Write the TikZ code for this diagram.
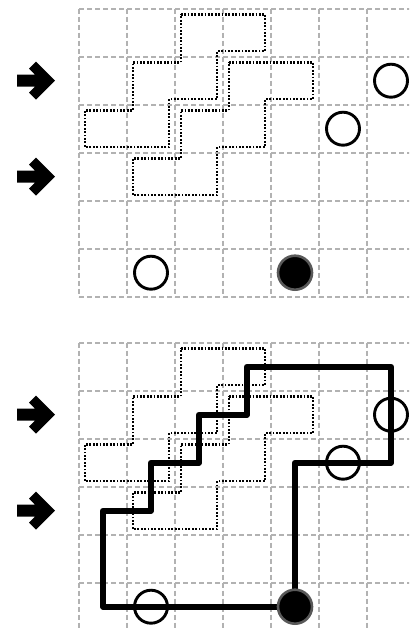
\documentclass[tikz,border=0pt]{standalone}
\begin{document}
\begin{tikzpicture}[x=1pt,y=-1pt,
  gridline/.style={draw=black!30,line width=1.7pt,dash pattern=on 5pt off 3pt},
  dotshape/.style={draw=black,line width=2.4pt,dash pattern=on 1.8pt off 1.6pt},
  opencirc/.style={circle,draw=black,line width=2.9pt,minimum size=33pt,inner sep=0pt,fill=none},
  fullcirc/.style={circle,draw=black!65,fill=black,line width=2.6pt,minimum size=34pt,inner sep=0pt},
  thickpath/.style={draw=black,line width=6pt,line join=round},
  bigarrow/.pic={\fill[black] (0pt,0pt) -- (-19pt,19pt) -- (-26pt,12pt) -- (-20pt,6pt) -- (-38pt,6pt)
      -- (-38pt,-6pt) -- (-20pt,-6pt) -- (-26pt,-12pt) -- (-19pt,-19pt) -- cycle;}
]
\useasboundingbox (0,0) rectangle (409,628);
\clip (0,0) rectangle (409,628);
\def\d{0.12}
% ---------- top panel ----------
\begin{scope}[shift={(79pt,-8.7pt)},x=48pt,y=-48pt]
  \foreach \i in {0,...,7} \draw[gridline] (\i,0) -- (\i,6);
  \foreach \j in {0,...,6} \draw[gridline] (0,\j) -- (7.5,\j);
  \draw[dotshape] (2+\d,\d) -- (4-\d,\d) -- (4-\d,1-\d) -- (3-\d,1-\d) -- (3-\d,2-\d) -- (2-\d,2-\d)
     -- (2-\d,3-\d) -- (\d,3-\d) -- (\d,2+\d) -- (1+\d,2+\d) -- (1+\d,1+\d) -- (2+\d,1+\d) -- cycle;
  \draw[dotshape] (3+\d,1+\d) -- (5-\d,1+\d) -- (5-\d,2-\d) -- (4-\d,2-\d) -- (4-\d,3-\d) -- (3-\d,3-\d)
     -- (3-\d,4-\d) -- (1+\d,4-\d) -- (1+\d,3+\d) -- (2+\d,3+\d) -- (2+\d,2+\d) -- (3+\d,2+\d) -- cycle;
  \node[opencirc] (ta) at (6.5,1.5) {};
  \node[opencirc] (tb) at (5.5,2.5) {};
  \node[opencirc] (tc) at (1.5,5.5) {};
  \node[fullcirc] (td) at (4.5,5.5) {};
  \pic at (-0.5,1.5) {bigarrow};
  \pic at (-0.5,3.5) {bigarrow};
\end{scope}
% ---------- bottom panel ----------
\begin{scope}[shift={(79pt,-342.7pt)},x=48pt,y=-48pt]
  \foreach \i in {0,...,7} \draw[gridline] (\i,0) -- (\i,6);
  \foreach \j in {0,...,6} \draw[gridline] (0,\j) -- (7.5,\j);
  \draw[dotshape] (2+\d,\d) -- (4-\d,\d) -- (4-\d,1-\d) -- (3-\d,1-\d) -- (3-\d,2-\d) -- (2-\d,2-\d)
     -- (2-\d,3-\d) -- (\d,3-\d) -- (\d,2+\d) -- (1+\d,2+\d) -- (1+\d,1+\d) -- (2+\d,1+\d) -- cycle;
  \draw[dotshape] (3+\d,1+\d) -- (5-\d,1+\d) -- (5-\d,2-\d) -- (4-\d,2-\d) -- (4-\d,3-\d) -- (3-\d,3-\d)
     -- (3-\d,4-\d) -- (1+\d,4-\d) -- (1+\d,3+\d) -- (2+\d,3+\d) -- (2+\d,2+\d) -- (3+\d,2+\d) -- cycle;
  \coordinate (s0) at (4.5,5.5);
  \coordinate (s1) at (4.5,2.5);
  \coordinate (s2) at (6.5,2.5);
  \coordinate (s3) at (6.5,0.5);
  \coordinate (s4) at (3.5,0.5);
  \coordinate (s5) at (3.5,1.5);
  \coordinate (s6) at (2.5,1.5);
  \coordinate (s7) at (2.5,2.5);
  \coordinate (s8) at (1.5,2.5);
  \coordinate (s9) at (1.5,3.5);
  \coordinate (s10) at (0.5,3.5);
  \coordinate (s11) at (0.5,5.5);
  \draw[thickpath] (s0) -- (s1) -- (s2) -- (s3) -- (s4) -- (s5) -- (s6) -- (s7) -- (s8) -- (s9)
     -- (s10) -- (s11) -- cycle;
  \node[opencirc] (ba) at (6.5,1.5) {};
  \node[opencirc] (bb) at (5.5,2.5) {};
  \node[opencirc] (bc) at (1.5,5.5) {};
  \node[fullcirc] (bd) at (s0) {};
  \pic at (-0.5,1.5) {bigarrow};
  \pic at (-0.5,3.5) {bigarrow};
\end{scope}
\end{tikzpicture}
\end{document}
